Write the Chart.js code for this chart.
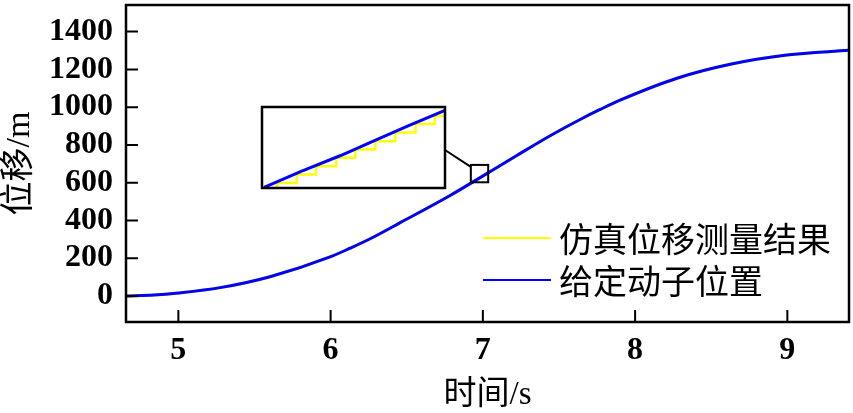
<!DOCTYPE html>
<html><head><meta charset="utf-8">
<script src="https://cdn.jsdelivr.net/npm/chart.js@4.4.0/dist/chart.umd.min.js"></script>
<style>
html,body{margin:0;padding:0;background:#fff;overflow:hidden}
#wrap{position:relative;width:853px;height:413px}
#main{position:absolute;left:0;top:0}
#inset{position:absolute;left:260px;top:105px}
</style></head><body>
<div id="wrap"><canvas id="main" width="853" height="413"></canvas><canvas id="inset" width="187" height="85"></canvas></div>
<script>
// ---- data ----
const times       = [4.656, 4.84, 5.0, 5.274, 5.602, 6.001, 6.128, 6.26, 6.457, 6.785, 6.985, 7.223, 7.445, 7.642, 7.774, 7.905, 8.275, 8.625, 8.997, 9.402];
const givenPos    = [0, 5, 16, 44, 102, 208, 253, 303, 388, 532, 628, 744, 850, 936, 989, 1038, 1153, 1227, 1276, 1301];
const measuredPos = [0, 5, 16, 44, 102, 208, 253, 303, 388, 532, 628, 744, 850, 936, 989, 1038, 1153, 1227, 1276, 1300];
const seriesNames = ['仿真位移测量结果', '给定动子位置'];
const xTickValues = [5, 6, 7, 8, 9];
const yTickValues = [0, 200, 400, 600, 800, 1000, 1200, 1400];
const xTitle = '时间/s';
const yTitle = '位移/m';
// zoomed window (inset)
const zoomT = [6.921, 7.035];
const zoomP = [602, 694];
const insetTimes = [6.9223, 6.945, 6.97, 6.99, 7.012, 7.035];
const insetGiven = [602.7, 620.5, 638.9, 655.0, 672.6, 690.1];
const stepTimes = [6.915, 6.9302, 6.9427, 6.9546, 6.9672, 6.9791, 6.9916, 7.0041, 7.0167, 7.0286, 7.04];
const stepPos   = [598, 607.75, 617.4, 626.6, 636.4, 645.6, 655.2, 665.0, 674.7, 683.9, 683.9];

const YELLOW = '#ffff00', BLUE = '#0000ff';
const serifCJK = "'Liberation Serif','Noto Sans CJK SC'";

const pts = (xs, ys) => xs.map((x, i) => ({x, y: ys[i]}));

// inward ticks + frame + zoom box + connector + legend
const decor = {
  id: 'decor',
  afterDatasetsDraw(chart) {
    const {ctx, chartArea: a, scales: {x, y}} = chart;
    ctx.save();
    ctx.strokeStyle = '#000';
    ctx.lineWidth = 2;
    ctx.beginPath();
    x.ticks.forEach(t => { const px = x.getPixelForValue(t.value); ctx.moveTo(px, a.bottom); ctx.lineTo(px, a.bottom - 12); });
    y.ticks.forEach(t => { const py = y.getPixelForValue(t.value); ctx.moveTo(a.left, py); ctx.lineTo(a.left + 12, py); });
    ctx.stroke();
    ctx.lineWidth = 2.5;
    ctx.strokeRect(a.left, a.top, a.right - a.left, a.bottom - a.top);
    // zoom rectangle
    const rx0 = x.getPixelForValue(zoomT[0]), rx1 = x.getPixelForValue(zoomT[1]);
    const ry0 = y.getPixelForValue(zoomP[1]), ry1 = y.getPixelForValue(zoomP[0]);
    ctx.lineWidth = 2;
    ctx.strokeRect(rx0, ry0, rx1 - rx0, ry1 - ry0);
    // connector from inset box
    ctx.beginPath();
    ctx.moveTo(445, 150);
    ctx.lineTo(rx0, ry0 + 2);
    ctx.stroke();
    // legend
    const ds = chart.data.datasets;
    const rows = [238, 280];
    ctx.font = "34px 'Noto Sans CJK SC'";
    ctx.textBaseline = 'middle';
    ctx.fillStyle = '#000';
    ds.forEach((d, i) => {
      ctx.strokeStyle = d.borderColor;
      ctx.lineWidth = 2;
      ctx.beginPath();
      ctx.moveTo(483, rows[i]); ctx.lineTo(551, rows[i]);
      ctx.stroke();
      ctx.fillText(d.label, 559, rows[i] + 1);
    });
    ctx.restore();
  }
};

new Chart(document.getElementById('main'), {
  type: 'line',
  data: {
    datasets: [
      {label: seriesNames[0], data: pts(times, measuredPos), borderColor: YELLOW, borderWidth: 3, pointRadius: 0, cubicInterpolationMode: 'monotone', order: 1, clip: 0},
      {label: seriesNames[1], data: pts(times, givenPos), borderColor: BLUE, borderWidth: 3, pointRadius: 0, cubicInterpolationMode: 'monotone', order: 0, clip: 0}
    ]
  },
  options: {
    responsive: false, animation: false, devicePixelRatio: 1,
    layout: {padding: {left: 0, right: 4, top: 5, bottom: 0}},
    plugins: {legend: {display: false}, tooltip: {enabled: false}},
    scales: {
      x: {
        type: 'linear', min: 4.656, max: 9.405,
        afterBuildTicks: s => { s.ticks = xTickValues.map(v => ({value: v})); },
        afterFit: s => { s.height = 91; s.paddingLeft = 0; s.paddingRight = 0; },
        grid: {display: false, drawTicks: false},
        border: {display: false},
        ticks: {color: '#000', padding: 10, font: {family: 'Liberation Serif', size: 32, weight: 'bold'}, callback: v => String(v)},
        title: {display: true, text: xTitle, color: '#000', font: {family: serifCJK, size: 33}, padding: {top: 0, bottom: -2}}
      },
      y: {
        type: 'linear', min: -138, max: 1541,
        afterBuildTicks: s => { s.ticks = yTickValues.map(v => ({value: v})); },
        afterFit: s => { s.width = 126; s.paddingTop = 0; s.paddingBottom = 0; },
        grid: {display: false, drawTicks: false},
        border: {display: false},
        ticks: {color: '#000', padding: 13, font: {family: 'Liberation Serif', size: 32, weight: 'bold'}, callback: v => String(v)},
        title: {display: true, text: yTitle, color: '#000', font: {family: serifCJK, size: 34}, padding: {top: 0, bottom: 0}}
      }
    }
  },
  plugins: [decor]
});

const frame = {
  id: 'frame',
  afterDatasetsDraw(chart) {
    const {ctx, chartArea: a} = chart;
    ctx.save();
    ctx.strokeStyle = '#000';
    ctx.lineWidth = 2.5;
    ctx.strokeRect(a.left, a.top, a.right - a.left, a.bottom - a.top);
    ctx.restore();
  }
};

new Chart(document.getElementById('inset'), {
  type: 'line',
  data: {
    datasets: [
      {label: seriesNames[0], data: pts(stepTimes, stepPos), borderColor: YELLOW, borderWidth: 2.5, pointRadius: 0, stepped: 'before', order: 1, clip: 0},
      {label: seriesNames[1], data: pts(insetTimes, insetGiven), borderColor: BLUE, borderWidth: 3, pointRadius: 0, order: 0, clip: 0}
    ]
  },
  options: {
    responsive: false, animation: false, devicePixelRatio: 1,
    layout: {padding: {left: 2, right: 2, top: 2, bottom: 2}},
    plugins: {legend: {display: false}, tooltip: {enabled: false}},
    scales: {
      x: {type: 'linear', display: false, min: zoomT[0], max: zoomT[1]},
      y: {type: 'linear', display: false, min: zoomP[0], max: zoomP[1]}
    }
  },
  plugins: [frame]
});
</script>
</body></html>
